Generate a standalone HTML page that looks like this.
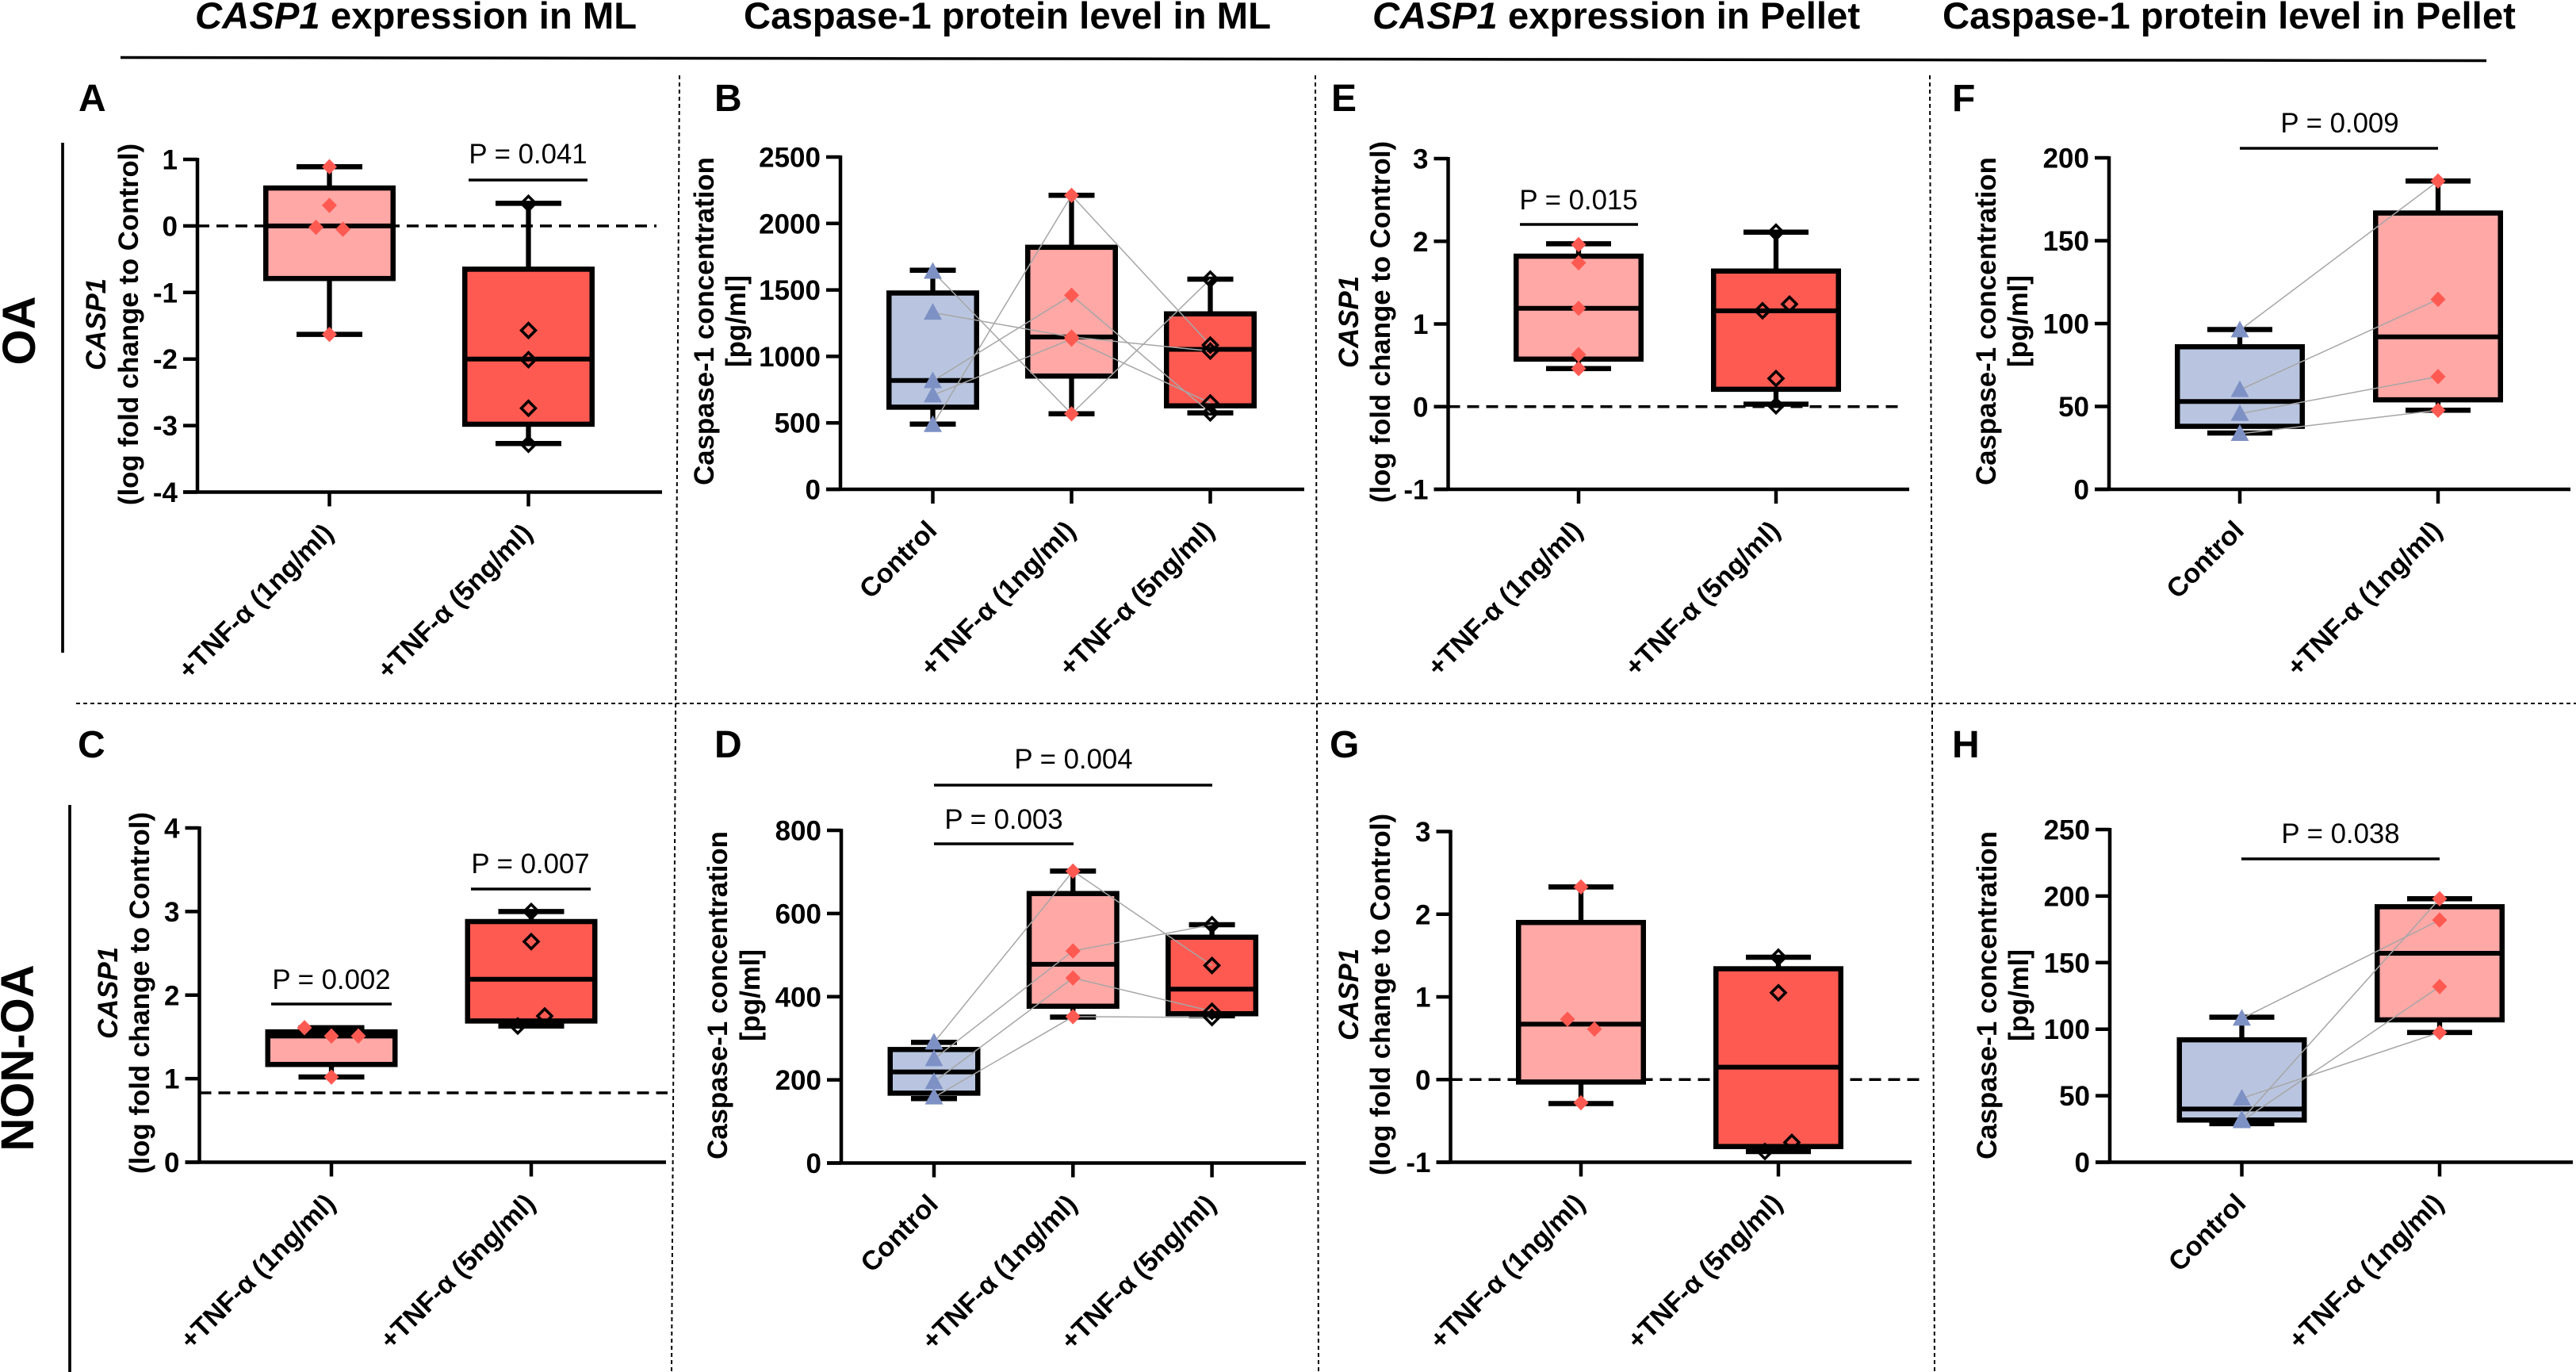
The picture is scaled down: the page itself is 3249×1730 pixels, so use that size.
<!DOCTYPE html>
<html lang="en">
<head>
<meta charset="utf-8">
<title>CASP1 expression and Caspase-1 protein level</title>
<style>
html,body{margin:0;padding:0;background:#fff;}
svg{display:block;font-family:"Liberation Sans",Arial,sans-serif;}
.col{font-size:47.3px;font-weight:700;}
.letter{font-size:48px;font-weight:700;}
.group{font-size:58px;font-weight:700;}
.ytitle{font-size:34.8px;font-weight:700;text-anchor:middle;}
.pval{font-size:34.8px;text-anchor:middle;}
.tick{font-size:35px;font-weight:700;}
.xtick{font-size:34px;font-weight:700;}
.sep{stroke:#000;stroke-width:2;stroke-dasharray:5 4;fill:none;}
.bar{stroke:#000;stroke-width:3.5;fill:none;}
</style>
</head>
<body>
<svg id="figure" xmlns="http://www.w3.org/2000/svg" width="3249" height="1730" viewBox="0 0 3249 1730">
<rect x="0" y="0" width="3249" height="1730" fill="#fff"/>

<text class="col" x="246" y="36"><tspan font-style="italic">CASP1</tspan> expression in ML</text>
<text class="col" x="938" y="36">Caspase-1 protein level in ML</text>
<text class="col" x="1731" y="36"><tspan font-style="italic">CASP1</tspan> expression in Pellet</text>
<text class="col" x="2450" y="36">Caspase-1 protein level in Pellet</text>
<line x1="152" y1="72.5" x2="3136" y2="76.5" stroke="#000" stroke-width="3.5"/>

<line class="sep" x1="857" y1="95" x2="847" y2="1730"/>
<line class="sep" x1="1659" y1="95" x2="1663" y2="1730"/>
<line class="sep" x1="2434" y1="95" x2="2440" y2="1730"/>
<line class="sep" x1="96" y1="887" x2="3249" y2="887"/>

<line x1="79" y1="180" x2="79" y2="823" stroke="#000" stroke-width="3.7"/>
<line x1="88" y1="1015" x2="88" y2="1730" stroke="#000" stroke-width="3.7"/>
<text class="group" text-anchor="middle" transform="translate(44,417) rotate(-90)">OA</text>
<text class="group" text-anchor="middle" transform="translate(42,1334) rotate(-90)">NON-OA</text>

<text class="letter" x="99" y="140">A</text>
<text class="letter" x="901" y="140">B</text>
<text class="letter" x="1679" y="140">E</text>
<text class="letter" x="2462" y="140">F</text>
<text class="letter" x="98" y="955">C</text>
<text class="letter" x="901" y="955">D</text>
<text class="letter" x="1677" y="955">G</text>
<text class="letter" x="2462" y="955">H</text>

<text class="ytitle" transform="translate(133,409) rotate(-90)"><tspan font-style="italic" x="0" y="0">CASP1</tspan><tspan x="0" y="41">(log fold change to Control)</tspan></text>
<text class="ytitle" transform="translate(148,1252) rotate(-90)"><tspan font-style="italic" x="0" y="0">CASP1</tspan><tspan x="0" y="40">(log fold change to Control)</tspan></text>
<text class="ytitle" transform="translate(1713,406) rotate(-90)"><tspan font-style="italic" x="0" y="0">CASP1</tspan><tspan x="0" y="40">(log fold change to Control)</tspan></text>
<text class="ytitle" transform="translate(1713,1254) rotate(-90)"><tspan font-style="italic" x="0" y="0">CASP1</tspan><tspan x="0" y="40">(log fold change to Control)</tspan></text>
<text class="ytitle" transform="translate(900,405) rotate(-90)"><tspan x="0" y="0">Caspase-1 concentration</tspan><tspan x="0" y="40">[pg/ml]</tspan></text>
<text class="ytitle" transform="translate(917,1255) rotate(-90)"><tspan x="0" y="0">Caspase-1 concentration</tspan><tspan x="0" y="41">[pg/ml]</tspan></text>
<text class="ytitle" transform="translate(2517,405) rotate(-90)"><tspan x="0" y="0">Caspase-1 concentration</tspan><tspan x="0" y="40">[pg/ml]</tspan></text>
<text class="ytitle" transform="translate(2518,1255) rotate(-90)"><tspan x="0" y="0">Caspase-1 concentration</tspan><tspan x="0" y="40">[pg/ml]</tspan></text>

<g id="panels"></g>

<text class="pval" x="666" y="206">P = 0.041</text>
<line class="bar" x1="591" y1="227" x2="741" y2="227"/>
<text class="pval" x="418" y="1247">P = 0.002</text>
<line class="bar" x1="342" y1="1266" x2="494" y2="1266"/>
<text class="pval" x="669" y="1101">P = 0.007</text>
<line class="bar" x1="594" y1="1121" x2="745" y2="1121"/>
<text class="pval" x="1354" y="969">P = 0.004</text>
<line class="bar" x1="1178" y1="990" x2="1529" y2="990"/>
<text class="pval" x="1266" y="1045">P = 0.003</text>
<line class="bar" x1="1178" y1="1064" x2="1354" y2="1064"/>
<text class="pval" x="1991" y="264">P = 0.015</text>
<line class="bar" x1="1917" y1="283" x2="2066" y2="283"/>
<text class="pval" x="2951" y="167">P = 0.009</text>
<line class="bar" x1="2825" y1="187" x2="3075" y2="187"/>
<text class="pval" x="2952" y="1063">P = 0.038</text>
<line class="bar" x1="2827" y1="1083" x2="3077" y2="1083"/>
</svg>

<script>
/* ---------- Shared categories ---------- */
const twoDoseCategories = ['+TNF-α (1ng/ml)', '+TNF-α (5ng/ml)'];
const threeGroupCategories = ['Control', '+TNF-α (1ng/ml)', '+TNF-α (5ng/ml)'];
const pairCategories = ['Control', '+TNF-α (1ng/ml)'];

/* ---------- Panel A ---------- */
const aTicks = [1, 0, -1, -2, -3, -4];
const aReference = 0;
const aWhiskerHigh = [0.89, 0.34];
const aQ3 = [0.57, -0.65];
const aMedian = [0, -2.0];
const aQ1 = [-0.79, -2.98];
const aWhiskerLow = [-1.63, -3.27];
const aPoints = [[0.89, 0.31, -0.02, -0.05, -1.63], [0.34, -1.57, -2.01, -2.74, -3.28]];

/* ---------- Panel B ---------- */
const bTicks = [2500, 2000, 1500, 1000, 500, 0];
const bWhiskerHigh = [1648, 2212, 1581];
const bQ3 = [1477, 1821, 1320];
const bMedian = [819, 1146, 1053];
const bQ1 = [618, 852, 628];
const bWhiskerLow = [491, 568, 575];
const bPoints = [[1638, 1330, 815, 708, 485], [568, 1146, 1460, 1130, 2212], [1581, 1040, 575, 650, 1085]];

/* ---------- Panel C ---------- */
const cTicks = [4, 3, 2, 1, 0];
const cReference = 0.83;
const cWhiskerHigh = [1.61, 3.0];
const cQ3 = [1.56, 2.88];
const cMedian = [1.51, 2.19];
const cQ1 = [1.17, 1.69];
const cWhiskerLow = [1.02, 1.63];
const cPoints = [[1.61, 1.51, 1.51, 1.02], [3.0, 2.64, 1.63, 1.75]];

/* ---------- Panel D ---------- */
const dTicks = [800, 600, 400, 200, 0];
const dWhiskerHigh = [290, 702, 573];
const dQ3 = [273, 648, 543];
const dMedian = [219, 478, 418];
const dQ1 = [168, 377, 359];
const dWhiskerLow = [155, 351, 354];
const dPoints = [[290, 250, 195, 158], [702, 510, 445, 352], [475, 573, 365, 350]];

/* ---------- Panel E ---------- */
const eTicks = [3, 2, 1, 0, -1];
const eReference = 0;
const eWhiskerHigh = [1.97, 2.11];
const eQ3 = [1.82, 1.64];
const eMedian = [1.19, 1.16];
const eQ1 = [0.575, 0.21];
const eWhiskerLow = [0.46, 0.03];
const ePoints = [[1.96, 1.74, 1.19, 0.63, 0.46], [2.11, 1.16, 1.24, 0.34, 0.01]];

/* ---------- Panel F ---------- */
const fTicks = [200, 150, 100, 50, 0];
const fWhiskerHigh = [96.4, 186];
const fQ3 = [86, 166.7];
const fMedian = [53, 92];
const fQ1 = [38, 54];
const fWhiskerLow = [34, 47.7];
const fPoints = [[96, 60, 45.6, 33.5], [186, 114.6, 68, 47.7]];

/* ---------- Panel G ---------- */
const gTicks = [3, 2, 1, 0, -1];
const gReference = 0;
const gWhiskerHigh = [2.33, 1.48];
const gQ3 = [1.9, 1.34];
const gMedian = [0.67, 0.15];
const gQ1 = [-0.03, -0.81];
const gWhiskerLow = [-0.29, -0.87];
const gPoints = [[2.33, 0.73, 0.61, -0.28], [1.48, 1.05, -0.87, -0.76]];

/* ---------- Panel H ---------- */
const hTicks = [250, 200, 150, 100, 50, 0];
const hWhiskerHigh = [109, 198];
const hQ3 = [92, 192];
const hMedian = [40, 157];
const hQ1 = [31.7, 107];
const hWhiskerLow = [29, 97.5];
const hPoints = [[108, 48, 32, 31], [182, 97.5, 198, 132]];

const SVG_NS = 'http://www.w3.org/2000/svg';
const root = document.getElementById('panels');

function make(tag, attrs, parent) {
  const node = document.createElementNS(SVG_NS, tag);
  for (const key in attrs) node.setAttribute(key, attrs[key]);
  parent.appendChild(node);
  return node;
}

function groupStyle(category) {
  if (category === 'Control') return { fill: '#B9C5E0', marker: 'triangle' };
  if (category.indexOf('1ng') >= 0) return { fill: '#FFA8A6', marker: 'solid-diamond' };
  return { fill: '#FF5A52', marker: 'open-diamond' };
}

/* Spread points whose values nearly coincide, in reading order of the series. */
function swarmOffsets(values, yScale, closePx, stepPx) {
  const order = values.map(function (v, i) { return i; }).sort(function (p, q) { return values[q] - values[p]; });
  const offsets = values.map(function () { return 0; });
  let cluster = [];
  function flush() {
    const members = cluster.slice().sort(function (p, q) { return p - q; });
    members.forEach(function (idx, k) { offsets[idx] = (k - (members.length - 1) / 2) * stepPx; });
    cluster = [];
  }
  order.forEach(function (idx) {
    if (cluster.length && Math.abs(yScale(values[cluster[cluster.length - 1]]) - yScale(values[idx])) > closePx) flush();
    cluster.push(idx);
  });
  flush();
  return offsets;
}

function drawPanel(d, f) {
  const g = make('g', {}, root);
  
  

  const yMax = Math.max.apply(null, d.ticks);
  const yMin = Math.min.apply(null, d.ticks);
  const yScale = function (v) { return f.top + (yMax - v) / (yMax - yMin) * (f.bottom - f.top); };
  const xScale = function (i) { return f.firstX + i * f.stepX; };

  /* dashed reference, behind everything */
  if (d.reference !== undefined) {
    const ref = make('line', { x1: f.axisX, x2: f.refEnd, y1: yScale(d.reference), y2: yScale(d.reference), stroke: '#000', 'stroke-width': 3.5, 'stroke-dasharray': '15 9' }, g);
    
    
  }

  /* axes */
  const yAxis = make('line', { x1: f.axisX, x2: f.axisX, y1: yScale(yMax) - 2, y2: yScale(yMin) + 2, stroke: '#000', 'stroke-width': 4.5 }, g);
  
  
  const xAxis = make('line', { x1: f.axisX - 18, x2: f.axisEnd, y1: yScale(yMin), y2: yScale(yMin), stroke: '#000', 'stroke-width': 4.5 }, g);
  
  

  d.ticks.forEach(function (t) {
    const mark = make('line', { x1: f.axisX - 18, x2: f.axisX, y1: yScale(t), y2: yScale(t), stroke: '#000', 'stroke-width': 4.5 }, g);
    
    
    const label = make('text', { x: f.axisX - 25, y: yScale(t) + 12.5, 'text-anchor': 'end', 'class': 'tick' }, g);
    label.textContent = String(t);
    
    
  });

  d.categories.forEach(function (name, i) {
    const cx = xScale(i);
    const mark = make('line', { x1: cx, x2: cx, y1: yScale(yMin), y2: yScale(yMin) + 18, stroke: '#000', 'stroke-width': 4.5 }, g);
    
    
    const label = make('text', { 'text-anchor': 'end', 'class': 'xtick', transform: 'translate(' + (cx + 7) + ',' + (yScale(yMin) + 54) + ') rotate(-45)' }, g);
    label.textContent = name;
    
    
  });

  /* boxes and whiskers */
  d.categories.forEach(function (name, i) {
    const cx = xScale(i);
    const style = groupStyle(name);
    const whisker = make('line', { x1: cx, x2: cx, y1: yScale(d.whiskerHigh[i]), y2: yScale(d.whiskerLow[i]), stroke: '#000', 'stroke-width': 6.3 }, g);
    
    
    [d.whiskerHigh[i], d.whiskerLow[i]].forEach(function (v) {
      const cap = make('line', { x1: cx - f.capHalf, x2: cx + f.capHalf, y1: yScale(v), y2: yScale(v), stroke: '#000', 'stroke-width': 6.5 }, g);
      
      
    });
    const box = make('rect', { x: cx - f.boxHalf + 3.25, width: 2 * f.boxHalf - 6.5, y: yScale(d.q3[i]), height: yScale(d.q1[i]) - yScale(d.q3[i]), fill: style.fill, stroke: '#000', 'stroke-width': 6.5 }, g);
    
    
    const med = make('line', { x1: cx - f.boxHalf + 3, x2: cx + f.boxHalf - 3, y1: yScale(d.median[i]), y2: yScale(d.median[i]), stroke: '#000', 'stroke-width': 6 }, g);
    
    
  });

  /* donor-paired connectors: same index in each series is the same donor */
  if (d.paired) {
    for (let i = 0; i + 1 < d.points.length; i++) {
      d.points[i].forEach(function (v, k) {
        const link = make('line', { x1: xScale(i), x2: xScale(i + 1), y1: yScale(v), y2: yScale(d.points[i + 1][k]), stroke: '#A6A6A6', 'stroke-width': 1.5 }, g);
        
        
      });
    }
  }

  /* data points */
  d.points.forEach(function (series, i) {
    const style = groupStyle(d.categories[i]);
    const offsets = d.paired ? series.map(function () { return 0; }) : swarmOffsets(series, yScale, 13, 34);
    series.forEach(function (v, k) {
      const px = xScale(i) + offsets[k];
      const py = yScale(v);
      let pt;
      if (style.marker === 'triangle') {
        pt = make('path', { d: 'M' + px + ' ' + (py - 12) + 'L' + (px + 11.5) + ' ' + (py + 9) + 'L' + (px - 11.5) + ' ' + (py + 9) + 'Z', fill: '#7E91C5' }, g);
      } else if (style.marker === 'solid-diamond') {
        pt = make('path', { d: 'M' + px + ' ' + (py - 9.7) + 'L' + (px + 9.5) + ' ' + py + 'L' + px + ' ' + (py + 9.7) + 'L' + (px - 9.5) + ' ' + py + 'Z', fill: '#FF5A52' }, g);
      } else {
        pt = make('path', { d: 'M' + px + ' ' + (py - 9) + 'L' + (px + 9) + ' ' + py + 'L' + px + ' ' + (py + 9) + 'L' + (px - 9) + ' ' + py + 'Z', fill: 'none', stroke: '#000', 'stroke-width': 3.5 }, g);
      }
      
      
    });
  });
}

drawPanel(
  { id: 'a', categories: twoDoseCategories, ticks: aTicks, reference: aReference, whiskerHigh: aWhiskerHigh, q3: aQ3, median: aMedian, q1: aQ1, whiskerLow: aWhiskerLow, points: aPoints, paired: false },
  { axisX: 249, axisEnd: 835, refEnd: 828, top: 201, bottom: 620.5, firstX: 415.5, stepX: 251, boxHalf: 83.5, capHalf: 41.5 });
drawPanel(
  { id: 'b', categories: threeGroupCategories, ticks: bTicks, whiskerHigh: bWhiskerHigh, q3: bQ3, median: bMedian, q1: bQ1, whiskerLow: bWhiskerLow, points: bPoints, paired: true },
  { axisX: 1060, axisEnd: 1645, top: 198, bottom: 617, firstX: 1176.5, stepX: 175, boxHalf: 58.5, capHalf: 29 });
drawPanel(
  { id: 'c', categories: twoDoseCategories, ticks: cTicks, reference: cReference, whiskerHigh: cWhiskerHigh, q3: cQ3, median: cMedian, q1: cQ1, whiskerLow: cWhiskerLow, points: cPoints, paired: false },
  { axisX: 251.5, axisEnd: 840, refEnd: 842, top: 1044, bottom: 1465.5, firstX: 418, stepX: 252, boxHalf: 83.5, capHalf: 41.5 });
drawPanel(
  { id: 'd', categories: threeGroupCategories, ticks: dTicks, whiskerHigh: dWhiskerHigh, q3: dQ3, median: dMedian, q1: dQ1, whiskerLow: dWhiskerLow, points: dPoints, paired: true },
  { axisX: 1061, axisEnd: 1647, top: 1047, bottom: 1466.5, firstX: 1178, stepX: 175.3, boxHalf: 58.5, capHalf: 29 });
drawPanel(
  { id: 'e', categories: twoDoseCategories, ticks: eTicks, reference: eReference, whiskerHigh: eWhiskerHigh, q3: eQ3, median: eMedian, q1: eQ1, whiskerLow: eWhiskerLow, points: ePoints, paired: false },
  { axisX: 1826.5, axisEnd: 2408, refEnd: 2400, top: 200, bottom: 617, firstX: 1991, stepX: 249, boxHalf: 82, capHalf: 41 });
drawPanel(
  { id: 'f', categories: pairCategories, ticks: fTicks, whiskerHigh: fWhiskerHigh, q3: fQ3, median: fMedian, q1: fQ1, whiskerLow: fWhiskerLow, points: fPoints, paired: true },
  { axisX: 2660, axisEnd: 3242, top: 199, bottom: 617, firstX: 2825, stepX: 250, boxHalf: 82, capHalf: 41 });
drawPanel(
  { id: 'g', categories: twoDoseCategories, ticks: gTicks, reference: gReference, whiskerHigh: gWhiskerHigh, q3: gQ3, median: gMedian, q1: gQ1, whiskerLow: gWhiskerLow, points: gPoints, paired: false },
  { axisX: 1829.5, axisEnd: 2411, refEnd: 2426, top: 1048.5, bottom: 1465.5, firstX: 1994, stepX: 249, boxHalf: 82, capHalf: 41 });
drawPanel(
  { id: 'h', categories: pairCategories, ticks: hTicks, whiskerHigh: hWhiskerHigh, q3: hQ3, median: hMedian, q1: hQ1, whiskerLow: hWhiskerLow, points: hPoints, paired: true },
  { axisX: 2661, axisEnd: 3245, top: 1046, bottom: 1465.5, firstX: 2827.5, stepX: 249.5, boxHalf: 82, capHalf: 41 });
</script>
</body>
</html>
